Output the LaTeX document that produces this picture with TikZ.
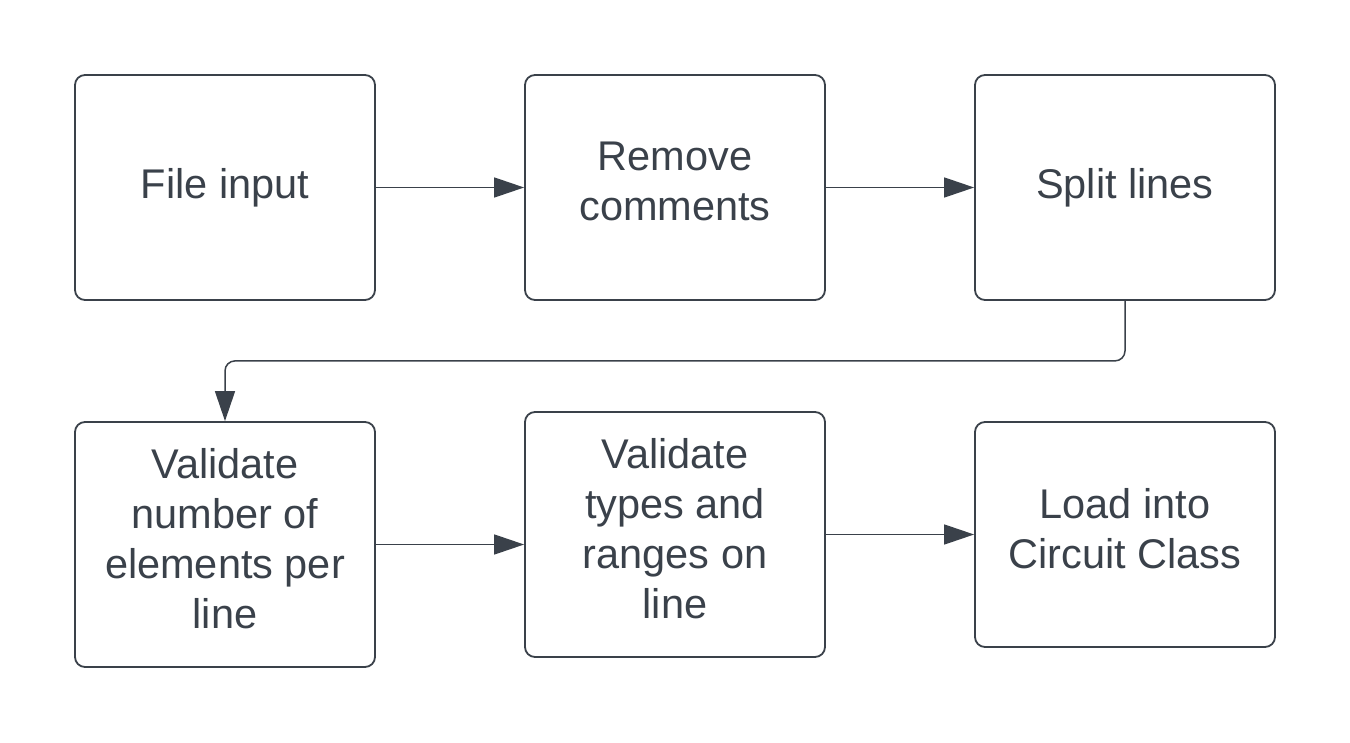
\documentclass[tikz,border=0pt]{standalone}
\usepackage{fontspec}
\setmainfont{Liberation Sans}
\usetikzlibrary{arrows.meta}
\definecolor{ink}{RGB}{58,65,74}
\tikzset{
  box/.style={draw=ink, line width=1.8pt, rounded corners=10pt, minimum width=300pt,
    align=center, text=ink, font=\fontsize{41.5}{50}\selectfont, inner sep=0pt},
  multi/.style={text depth=12pt},
  conn/.style={draw=ink, line width=1.5pt, -{Triangle[length=30pt,width=20pt]}}
}
\begin{document}
\begin{tikzpicture}[x=1pt,y=-1pt]
\useasboundingbox (0,0) rectangle (1350,743);
\node[box, minimum height=225pt] (b1) at (225,187.5) {File input};
\node[box, multi, minimum height=225pt] (b2) at (675,187.5) {Remove\\comments};
\node[box, minimum height=225pt] (b3) at (1125,187.5) {Split lines};
\node[box, multi, minimum height=245pt] (b4) at (225,544.5) {Validate\\number of\\elements per\\line};
\node[box, multi, minimum height=245pt] (b5) at (675,534.5) {Validate\\types and\\ranges on\\line};
\node[box, multi, minimum height=225pt] (b6) at (1125,534.5) {Load into\\Circuit Class};
\draw[conn] (b1.east) -- (b2.west);
\draw[conn] (b2.east) -- (b3.west);
\draw[conn, rounded corners=10pt] (b3.south) -- ++(0,60) -| (b4.north);
\draw[conn] (b4.east) -- (b4.east -| b5.west);
\draw[conn] (b5.east) -- (b6.west);
\end{tikzpicture}
\end{document}
